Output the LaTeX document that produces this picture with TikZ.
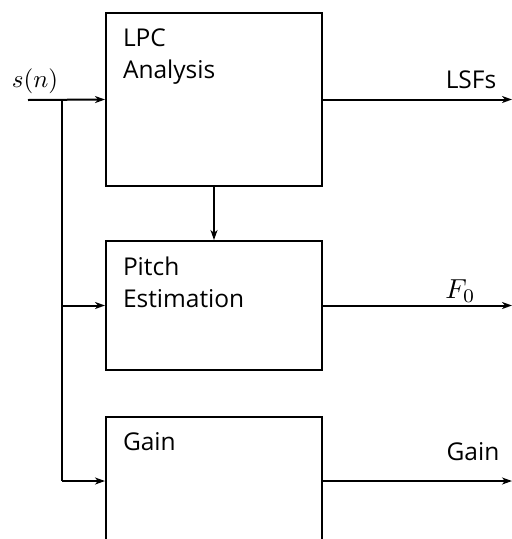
\documentclass[tikz,border=0pt]{standalone}
\usepackage{fontspec}
\setmainfont{Open Sans}
\usetikzlibrary{arrows.meta}
\begin{document}
\begin{tikzpicture}[x=1pt,y=-1pt,
  line width=2pt,
  font=\fontsize{24.5}{32}\selectfont,
  blockbox/.style={draw,rectangle,minimum width=216pt,minimum height=#1,inner sep=0pt},
  blocktext/.style={anchor=north west,align=left,inner sep=0pt},
  sig/.style={-{Stealth[length=10pt,width=7pt,inset=3pt]}},
  lbl/.style={anchor=base,inner sep=0pt},
  mathlbl/.style={lbl,font=\normalsize,scale=2.5}]
\useasboundingbox (0,0) rectangle (512,539);
\clip (0,0) rectangle (512,539);
% processing blocks
\node[blockbox=173pt] (lpc) at (214,99.5) {};
\node[blockbox=129pt] (pitch) at (214,305.5) {};
\node[blockbox=128pt] (gain) at (214,481) {};
\node[blocktext] (lpctxt) at (122,28) {LPC\\Analysis};
\node[blocktext] (pitchtxt) at (122,256) {Pitch\\Estimation};
\node[blocktext] (gaintxt) at (122,432) {Gain};
% input signal and its distribution
\coordinate (in) at (28,100);
\coordinate (split) at (62,100);
\coordinate (splitp) at (62,305.5);
\coordinate (splitg) at (62,481);
\node[mathlbl] (slbl) at (35,87) {$s(n)$};
\draw[sig] (in) -- (lpc.west);
\draw (split) -- (splitg);
\draw[sig] (splitp) -- (pitch.west);
\draw[sig] (splitg) -- (gain.west);
\draw[sig] (lpc.south) -- (pitch.north);
% outputs
\coordinate (olsf) at (512,99.5);
\coordinate (of0) at (512,305.5);
\coordinate (ogain) at (512,481);
\draw[sig] (lpc.east) -- (olsf);
\draw[sig] (pitch.east) -- (of0);
\draw[sig] (gain.east) -- (ogain);
\node[lbl] (lsflbl) at (471,88) {LSFs};
\node[mathlbl,scale=1.1] (f0lbl) at (460.5,298) {$F_0$};
\node[lbl] (gainlbl) at (473,460) {Gain};
\end{tikzpicture}
\end{document}
